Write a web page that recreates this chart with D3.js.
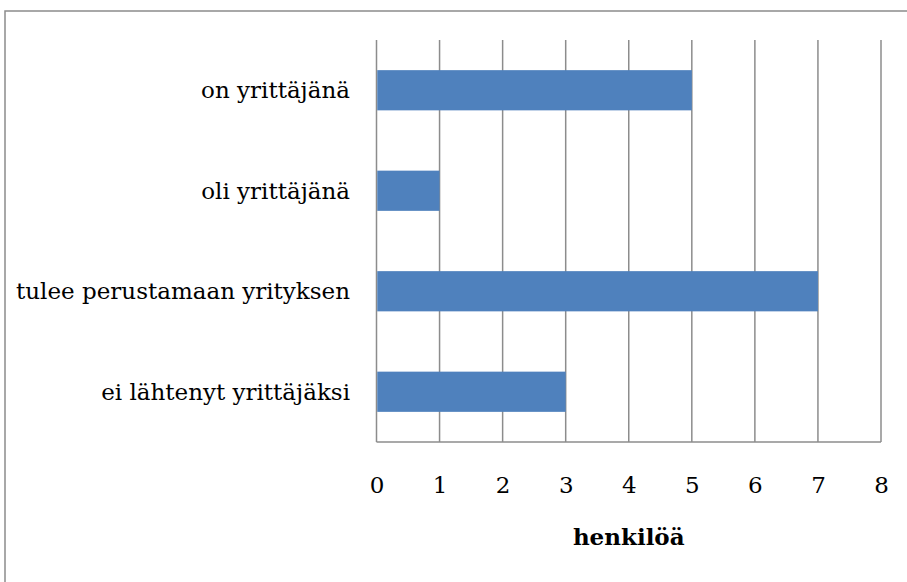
<!DOCTYPE html>
<html>
<head>
<meta charset="utf-8">
<script src="https://cdn.jsdelivr.net/npm/d3@7"></script>
<style>
  body { margin: 0; background: #fff; }
</style>
</head>
<body>
<div id="chart"></div>
<script>
// data
var categories = ["on yrittäjänä", "oli yrittäjänä", "tulee perustamaan yrityksen", "ei lähtenyt yrittäjäksi"];
var values = [5, 1, 7, 3];
var xTicks = [0, 1, 2, 3, 4, 5, 6, 7, 8];
var xTitle = "henkilöä";

var W = 907, H = 582;
var plot = {left: 376.5, right: 881, top: 40, bottom: 442};
var font = "'DejaVu Serif', serif";

var svg = d3.select("#chart")
    .append("svg")
    .attr("width", W)
    .attr("height", H)
    .attr("font-family", font);

// outer frame (runs off the right and bottom edge)
svg.append("rect")
    .attr("x", 5)
    .attr("y", 11)
    .attr("width", W + 20)
    .attr("height", H + 20)
    .attr("fill", "none")
    .attr("stroke", "#8c8c8c")
    .attr("stroke-width", 1.5);

var data = categories.map(function (c, i) { return {cat: c, val: values[i]}; });

var x = d3.scaleLinear()
    .domain([0, 8])
    .range([plot.left, plot.right]);

var y = d3.scaleBand()
    .domain(categories)
    .range([plot.top, plot.bottom])
    .paddingInner(0.6)
    .paddingOuter(0.3);

// vertical gridlines
svg.append("g")
    .selectAll("line")
    .data(xTicks)
    .enter()
    .append("line")
    .attr("x1", function (d) { return x(d); })
    .attr("x2", function (d) { return x(d); })
    .attr("y1", plot.top)
    .attr("y2", plot.bottom)
    .attr("stroke", "#8c8c8c")
    .attr("stroke-width", 1.5);

// bars
svg.append("g")
    .selectAll("rect")
    .data(data)
    .enter()
    .append("rect")
    .attr("x", x(0) + 0.75)
    .attr("y", function (d) { return y(d.cat); })
    .attr("width", function (d) { return x(d.val) - x(0) - 0.75; })
    .attr("height", y.bandwidth())
    .attr("fill", "#4f81bd");

// bottom axis line
svg.append("line")
    .attr("x1", x(0))
    .attr("x2", x(8))
    .attr("y1", plot.bottom)
    .attr("y2", plot.bottom)
    .attr("stroke", "#8c8c8c")
    .attr("stroke-width", 1.5);

// x tick labels
var xAxis = svg.append("g")
    .attr("transform", "translate(0," + plot.bottom + ")")
    .call(d3.axisBottom(x).tickValues(xTicks).tickSize(0).tickPadding(35).tickFormat(d3.format("d")));
xAxis.attr("font-family", font).attr("font-size", 23);
xAxis.select(".domain").remove();
xAxis.selectAll("text").attr("fill", "#000");

// category labels
svg.append("g")
    .selectAll("text")
    .data(data)
    .enter()
    .append("text")
    .attr("x", 350)
    .attr("y", function (d) { return y(d.cat) + y.bandwidth() / 2; })
    .attr("dy", "0.35em")
    .attr("text-anchor", "end")
    .attr("font-size", 23)
    .text(function (d) { return d.cat; });

// axis title
svg.append("text")
    .attr("x", (plot.left + plot.right) / 2)
    .attr("y", 545)
    .attr("text-anchor", "middle")
    .attr("font-size", 23)
    .attr("font-weight", "bold")
    .text(xTitle);
</script>
</body>
</html>
